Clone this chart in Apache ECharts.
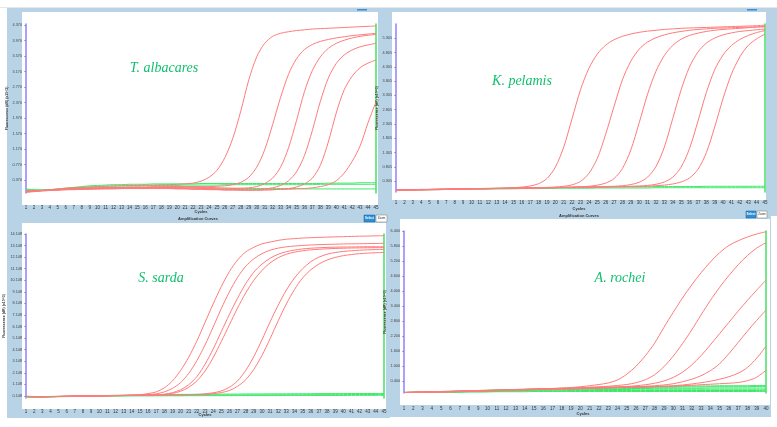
<!DOCTYPE html>
<html><head><meta charset="utf-8">
<script src="https://cdn.jsdelivr.net/npm/echarts@6.0.0/dist/echarts.min.js"></script>
<style>html,body{margin:0;padding:0;background:#fff}#c{width:777px;height:427px}</style>
</head><body><div id="c"></div>
<script>
const cycles45 = [1,2,3,4,5,6,7,8,9,10,11,12,13,14,15,16,17,18,19,20,21,22,23,24,25,26,27,28,29,30,31,32,33,34,35,36,37,38,39,40,41,42,43,44,45];
const cycles40 = [1,2,3,4,5,6,7,8,9,10,11,12,13,14,15,16,17,18,19,20,21,22,23,24,25,26,27,28,29,30,31,32,33,34,35,36,37,38,39,40];

const tlTicks = [0.370,0.770,1.170,1.570,1.970,2.370,2.770,3.170,3.570,3.970,4.370];
const trTicks = [0.305,0.805,1.305,1.805,2.305,2.805,3.305,3.805,4.305,4.805,5.305,5.805];
const blTicks = [0.148,1.148,2.148,3.148,4.148,5.148,6.148,7.148,8.148,9.148,10.148,11.148,12.148,13.148,14.148];
const brTicks = [0.400,1.000,1.600,2.200,2.800,3.400,4.000,4.600,5.200,5.800,6.400];

// T. albacares
const tlRed = [
 [0.07,0.08,0.10,0.12,0.14,0.16,0.17,0.18,0.19,0.20, 0.21,0.22,0.22,0.23,0.23,0.24,0.24,0.25,0.25,0.26, 0.27,0.29,0.34,0.44,0.62,0.95,1.45,2.15,2.95,3.55, 3.90,4.08,4.16,4.20,4.23,4.25,4.27,4.28,4.29,4.30, 4.31,4.32,4.33,4.34,4.35],
 [0.09,0.09,0.10,0.11,0.12,0.13,0.14,0.15,0.16,0.17, 0.17,0.18,0.18,0.19,0.19,0.19,0.20,0.20,0.20,0.20, 0.20,0.20,0.20,0.20,0.21,0.22,0.25,0.31,0.44,0.70, 1.15,1.80,2.50,3.10,3.50,3.74,3.87,3.95,4.00,4.04, 4.07,4.10,4.12,4.14,4.16],
 [0.08,0.09,0.10,0.11,0.12,0.13,0.14,0.14,0.15,0.15, 0.16,0.16,0.17,0.17,0.18,0.18,0.18,0.19,0.19,0.19, 0.19,0.19,0.18,0.18,0.17,0.16,0.16,0.16,0.17,0.20, 0.28,0.42,0.70,1.20,1.90,2.65,3.20,3.55,3.77,3.90, 3.98,4.04,4.08,4.11,4.13],
 [0.06,0.08,0.10,0.11,0.12,0.13,0.14,0.14,0.15,0.15, 0.16,0.16,0.16,0.17,0.17,0.17,0.17,0.17,0.17,0.17, 0.16,0.16,0.15,0.15,0.14,0.13,0.13,0.12,0.12,0.12, 0.14,0.17,0.23,0.35,0.58,1.00,1.65,2.40,3.00,3.38, 3.60,3.73,3.81,3.86,3.90],
 [0.08,0.08,0.09,0.10,0.11,0.12,0.13,0.13,0.14,0.14, 0.15,0.15,0.15,0.16,0.16,0.16,0.16,0.16,0.16,0.15, 0.15,0.14,0.14,0.13,0.13,0.12,0.12,0.11,0.11,0.11, 0.11,0.12,0.13,0.15,0.19,0.27,0.42,0.75,1.35,2.10, 2.70,3.05,3.27,3.39,3.47],
 [0.05,0.07,0.09,0.10,0.11,0.12,0.12,0.13,0.13,0.14, 0.14,0.14,0.15,0.15,0.15,0.15,0.15,0.15,0.15,0.14, 0.14,0.13,0.13,0.12,0.12,0.11,0.11,0.11,0.11,0.11, 0.12,0.12,0.13,0.13,0.14,0.15,0.17,0.20,0.25,0.35, 0.55,0.85,1.25,1.85,2.39]
];
const tlGreen = [
 [0.14,0.12,0.11,0.12,0.14,0.16,0.18,0.20,0.22,0.23, 0.24,0.25,0.25,0.26,0.26,0.26,0.27,0.27,0.27,0.27, 0.27,0.27,0.28,0.28,0.28,0.28,0.28,0.28,0.28,0.28, 0.28,0.28,0.28,0.28,0.28,0.28,0.28,0.28,0.29,0.29, 0.29,0.29,0.30,0.30,0.30],
 [0.10,0.10,0.11,0.12,0.13,0.14,0.15,0.16,0.17,0.17, 0.18,0.18,0.18,0.18,0.18,0.18,0.18,0.18,0.18,0.18, 0.17,0.17,0.17,0.16,0.16,0.16,0.15,0.15,0.15,0.15, 0.15,0.15,0.15,0.15,0.15,0.14,0.14,0.14,0.14,0.14, 0.14,0.14,0.14,0.14,0.14],
 [0.12,0.11,0.11,0.12,0.13,0.15,0.17,0.18,0.19,0.20, 0.21,0.21,0.22,0.22,0.22,0.23,0.23,0.23,0.23,0.23, 0.24,0.24,0.24,0.24,0.24,0.25,0.25,0.25,0.25,0.25, 0.25,0.25,0.25,0.25,0.25,0.25,0.25,0.26,0.26,0.26, 0.26,0.26,0.26,0.26,0.26]
];

// K. pelamis
const trRed = [
 [0.00,0.01,0.01,0.02,0.02,0.03,0.03,0.04,0.04,0.05, 0.05,0.06,0.06,0.07,0.08,0.10,0.14,0.22,0.40,0.80, 1.50,2.50,3.50,4.25,4.75,5.06,5.25,5.37,5.45,5.51, 5.55,5.58,5.61,5.63,5.65,5.66,5.67,5.68,5.69,5.70, 5.71,5.72,5.73,5.74,5.76],
 [0.00,0.01,0.01,0.02,0.02,0.03,0.03,0.04,0.04,0.05, 0.05,0.05,0.06,0.06,0.07,0.07,0.08,0.08,0.09,0.10, 0.13,0.18,0.30,0.58,1.10,1.95,2.92,3.85,4.50,4.92, 5.17,5.32,5.42,5.49,5.54,5.58,5.61,5.63,5.65,5.66, 5.67,5.68,5.69,5.70,5.72],
 [0.00,0.00,0.01,0.01,0.02,0.02,0.03,0.03,0.04,0.04, 0.05,0.05,0.05,0.06,0.06,0.07,0.07,0.08,0.08,0.09, 0.09,0.10,0.11,0.13,0.17,0.24,0.40,0.75,1.40,2.35, 3.35,4.15,4.70,5.05,5.27,5.40,5.48,5.54,5.58,5.61, 5.63,5.65,5.67,5.69,5.70],
 [-0.01,0.00,0.00,0.01,0.01,0.02,0.02,0.03,0.03,0.04, 0.04,0.05,0.05,0.06,0.06,0.07,0.07,0.08,0.08,0.09, 0.09,0.10,0.10,0.11,0.11,0.12,0.13,0.15,0.19,0.27, 0.45,0.82,1.50,2.50,3.50,4.30,4.82,5.13,5.31,5.42, 5.49,5.54,5.57,5.60,5.62],
 [-0.01,0.00,0.00,0.01,0.01,0.02,0.02,0.03,0.03,0.04, 0.04,0.05,0.05,0.05,0.06,0.06,0.07,0.07,0.08,0.08, 0.09,0.09,0.10,0.10,0.11,0.11,0.12,0.12,0.13,0.14, 0.16,0.20,0.28,0.45,0.80,1.45,2.40,3.40,4.20,4.72, 5.05,5.26,5.40,5.50,5.57],
 [-0.01,-0.01,0.00,0.00,0.01,0.01,0.02,0.02,0.03,0.03, 0.04,0.04,0.05,0.05,0.06,0.06,0.07,0.07,0.08,0.08, 0.09,0.09,0.10,0.10,0.10,0.11,0.11,0.11,0.12,0.12, 0.13,0.15,0.17,0.21,0.28,0.42,0.72,1.30,2.20,3.20, 4.05,4.65,5.05,5.28,5.45]
];
const trGreen = [
 [0.00,0.00,0.01,0.01,0.02,0.02,0.03,0.03,0.04,0.04, 0.05,0.05,0.06,0.06,0.07,0.07,0.08,0.08,0.08,0.09, 0.09,0.09,0.10,0.10,0.10,0.10,0.11,0.11,0.11,0.11, 0.11,0.12,0.12,0.12,0.12,0.12,0.12,0.13,0.13,0.13, 0.13,0.13,0.13,0.13,0.13],
 [-0.01,-0.01,0.00,0.00,0.01,0.01,0.02,0.02,0.02,0.03, 0.03,0.03,0.04,0.04,0.04,0.05,0.05,0.05,0.05,0.06, 0.06,0.06,0.06,0.06,0.07,0.07,0.07,0.07,0.07,0.07, 0.07,0.08,0.08,0.08,0.08,0.08,0.08,0.08,0.08,0.08, 0.08,0.08,0.08,0.08,0.08]
];

// S. sarda
const blRed = [
 [0.10,0.06,0.06,0.08,0.10,0.12,0.14,0.15,0.16,0.17, 0.18,0.19,0.20,0.22,0.25,0.35,0.50,0.85,1.45,2.35, 3.50,4.90,6.50,8.10,9.60,10.90,11.90,12.60,13.00,13.30, 13.45,13.60,13.70,13.75,13.80,13.83,13.86,13.88,13.90,13.92, 13.94,13.96,13.97,13.99,14.00],
 [0.12,0.10,0.09,0.10,0.11,0.12,0.13,0.14,0.15,0.16, 0.17,0.18,0.19,0.20,0.22,0.26,0.33,0.50,0.80,1.30, 2.10,3.20,4.55,6.10,7.70,9.15,10.40,11.35,12.00,12.45, 12.75,12.93,13.04,13.11,13.16,13.20,13.23,13.25,13.27,13.29, 13.30,13.31,13.32,13.33,13.34],
 [0.10,0.08,0.08,0.09,0.10,0.11,0.12,0.13,0.14,0.15, 0.16,0.17,0.18,0.19,0.20,0.21,0.24,0.30,0.43,0.68, 1.12,1.82,2.88,4.20,5.70,7.20,8.60,9.85,10.85,11.55, 12.05,12.40,12.62,12.76,12.86,12.92,12.96,12.99,13.01,13.02, 13.03,13.04,13.05,13.05,13.05],
 [0.10,0.09,0.08,0.09,0.10,0.11,0.12,0.13,0.14,0.15, 0.16,0.17,0.18,0.19,0.20,0.21,0.23,0.27,0.37,0.55, 0.90,1.45,2.30,3.45,4.85,6.30,7.75,9.05,10.15,11.00, 11.65,12.10,12.40,12.58,12.70,12.78,12.83,12.87,12.90,12.92, 12.94,12.95,12.96,12.97,12.97],
 [0.10,0.09,0.09,0.10,0.11,0.12,0.13,0.14,0.15,0.16, 0.17,0.18,0.19,0.20,0.21,0.22,0.23,0.24,0.25,0.26, 0.27,0.28,0.33,0.42,0.58,0.90,1.45,2.35,3.55,5.00, 6.55,8.00,9.30,10.35,11.15,11.75,12.15,12.40,12.55,12.64, 12.70,12.75,12.78,12.80,12.82],
 [0.11,0.10,0.09,0.10,0.11,0.12,0.13,0.14,0.15,0.16, 0.17,0.18,0.19,0.20,0.21,0.22,0.23,0.24,0.25,0.26, 0.27,0.27,0.28,0.34,0.44,0.62,0.98,1.55,2.45,3.65, 5.10,6.65,8.10,9.35,10.35,11.05,11.55,11.90,12.12,12.28, 12.38,12.45,12.50,12.53,12.56]
];
const blGreen = [
 [0.06,0.05,0.06,0.08,0.10,0.12,0.14,0.16,0.17,0.18, 0.19,0.20,0.21,0.22,0.23,0.24,0.25,0.26,0.27,0.28, 0.28,0.29,0.29,0.30,0.30,0.31,0.31,0.32,0.32,0.32, 0.33,0.33,0.33,0.34,0.34,0.34,0.35,0.35,0.35,0.35, 0.36,0.36,0.36,0.36,0.36],
 [0.08,0.06,0.06,0.07,0.09,0.10,0.12,0.13,0.14,0.15, 0.16,0.17,0.18,0.18,0.19,0.19,0.20,0.20,0.21,0.21, 0.21,0.22,0.22,0.22,0.23,0.23,0.23,0.24,0.24,0.24, 0.24,0.25,0.25,0.25,0.25,0.26,0.26,0.26,0.26,0.26, 0.27,0.27,0.27,0.27,0.27],
 [0.07,0.06,0.06,0.07,0.08,0.09,0.10,0.11,0.12,0.13, 0.13,0.14,0.14,0.15,0.15,0.15,0.16,0.16,0.16,0.16, 0.17,0.17,0.17,0.17,0.17,0.18,0.18,0.18,0.18,0.18, 0.18,0.18,0.19,0.19,0.19,0.19,0.19,0.19,0.19,0.19, 0.20,0.20,0.20,0.20,0.20]
];

// A. rochei
const brRed = [
 [-0.05,-0.04,-0.03,-0.02,-0.01,0.00,0.01,0.02,0.03,0.04, 0.05,0.06,0.07,0.08,0.09,0.10,0.11,0.13,0.15,0.18, 0.22,0.27,0.33,0.45,0.68,1.00,1.42,1.92,2.55,3.15, 3.72,4.25,4.73,5.16,5.53,5.82,6.01,6.16,6.28,6.37],
 [-0.05,-0.04,-0.03,-0.03,-0.02,-0.01,0.00,0.01,0.02,0.03, 0.04,0.05,0.06,0.07,0.08,0.09,0.10,0.11,0.12,0.14, 0.16,0.18,0.20,0.23,0.27,0.34,0.46,0.66,0.98,1.40, 1.90,2.45,3.05,3.62,4.15,4.62,5.05,5.42,5.72,5.93],
 [-0.05,-0.05,-0.04,-0.03,-0.02,-0.02,-0.01,0.00,0.01,0.02, 0.03,0.04,0.05,0.06,0.07,0.08,0.09,0.10,0.11,0.12, 0.14,0.15,0.16,0.17,0.19,0.22,0.26,0.32,0.41,0.55, 0.76,1.05,1.42,1.85,2.30,2.75,3.20,3.63,4.04,4.44],
 [-0.05,-0.04,-0.04,-0.03,-0.02,-0.01,0.00,0.01,0.02,0.03, 0.04,0.05,0.06,0.07,0.08,0.09,0.10,0.10,0.11,0.12, 0.13,0.14,0.15,0.16,0.17,0.18,0.20,0.22,0.25,0.30, 0.38,0.48,0.62,0.82,1.10,1.50,1.95,2.40,2.83,3.24],
 [-0.05,-0.05,-0.04,-0.03,-0.03,-0.02,-0.01,0.00,0.01,0.02, 0.03,0.04,0.05,0.06,0.07,0.08,0.09,0.10,0.10,0.11, 0.12,0.13,0.14,0.15,0.16,0.17,0.18,0.19,0.20,0.22, 0.25,0.29,0.34,0.40,0.48,0.58,0.72,0.95,1.32,1.80],
 [-0.05,-0.04,-0.04,-0.03,-0.02,-0.02,-0.01,0.00,0.01,0.01, 0.02,0.03,0.04,0.05,0.06,0.07,0.07,0.08,0.09,0.10, 0.11,0.12,0.13,0.14,0.15,0.16,0.17,0.18,0.19,0.20, 0.22,0.24,0.26,0.28,0.30,0.32,0.35,0.42,0.56,0.84]
];
const brGreen = [
 [-0.05,-0.04,-0.03,-0.02,-0.01,0.00,0.01,0.02,0.03,0.04, 0.05,0.06,0.07,0.08,0.09,0.10,0.11,0.12,0.13,0.14, 0.15,0.16,0.17,0.17,0.18,0.18,0.19,0.19,0.20,0.20, 0.20,0.21,0.21,0.21,0.22,0.22,0.22,0.22,0.23,0.23],
 [-0.05,-0.04,-0.03,-0.02,-0.02,-0.01,0.00,0.01,0.02,0.03, 0.04,0.05,0.06,0.07,0.08,0.08,0.09,0.10,0.11,0.12, 0.12,0.13,0.13,0.14,0.14,0.15,0.15,0.16,0.16,0.16, 0.17,0.17,0.17,0.18,0.18,0.18,0.18,0.18,0.19,0.19],
 [-0.05,-0.05,-0.04,-0.03,-0.02,-0.02,-0.01,0.00,0.01,0.02, 0.03,0.03,0.04,0.05,0.06,0.06,0.07,0.08,0.08,0.09, 0.09,0.10,0.10,0.10,0.11,0.11,0.11,0.12,0.12,0.12, 0.12,0.12,0.12,0.13,0.13,0.13,0.13,0.13,0.13,0.13],
 [-0.05,-0.05,-0.04,-0.04,-0.03,-0.02,-0.02,-0.01,0.00,0.01, 0.01,0.02,0.03,0.03,0.04,0.04,0.05,0.05,0.06,0.06, 0.06,0.07,0.07,0.07,0.07,0.08,0.08,0.08,0.08,0.08, 0.08,0.08,0.08,0.08,0.08,0.08,0.08,0.08,0.08,0.08],
 [-0.05,-0.05,-0.05,-0.04,-0.04,-0.03,-0.03,-0.02,-0.02,-0.01, -0.01,0.00,0.00,0.01,0.01,0.02,0.02,0.02,0.03,0.03, 0.03,0.03,0.03,0.03,0.03,0.03,0.03,0.03,0.03,0.03, 0.03,0.03,0.03,0.03,0.03,0.03,0.03,0.03,0.03,0.03],
 [-0.05,-0.05,-0.05,-0.05,-0.04,-0.04,-0.04,-0.03,-0.03,-0.03, -0.02,-0.02,-0.02,-0.02,-0.01,-0.01,-0.01,-0.01,-0.01,-0.01, -0.01,-0.01,-0.01,-0.01,-0.01,-0.01,-0.01,-0.01,-0.01,-0.01, -0.01,-0.01,-0.01,-0.01,-0.01,-0.01,-0.01,-0.01,-0.01,-0.01]
];

const panels = [
  {title:'T. albacares', cycles:cycles45, red:tlRed, green:tlGreen, ticks:tlTicks, min:0.035, max:4.40,
   grid:{left:26, top:24, width:350, height:169}, xMargin:12},
  {title:'K. pelamis', cycles:cycles45, red:trRed, green:trGreen, ticks:trTicks, min:-0.07, max:5.80,
   grid:{left:396, top:24, width:369, height:168}, xMargin:8},
  {title:'S. sarda', cycles:cycles45, red:blRed, green:blGreen, ticks:blTicks, min:-0.03, max:14.15,
   grid:{left:26, top:234, width:358, height:164}, xMargin:11},
  {title:'A. rochei', cycles:cycles40, red:brRed, green:brGreen, ticks:brTicks, min:-0.07, max:6.40,
   grid:{left:404, top:231, width:362, height:162}, xMargin:13}
];

const grids = [], xAxes = [], yAxes = [], series = [];
panels.forEach((p, i) => {
  grids.push(Object.assign({containLabel:false}, p.grid));
  xAxes.push({type:'value', gridIndex:i, min:1, max:p.cycles[p.cycles.length-1], interval:1,
    axisLine:{show:false}, axisTick:{show:false}, splitLine:{show:false},
    axisLabel:{fontSize:4.5, color:'#333', margin:p.xMargin, fontFamily:'Liberation Sans'}});
  yAxes.push({type:'value', gridIndex:i, min:p.min, max:p.max, position:'left',
    name:'Fluorescence (dR) (x10^3)', nameLocation:'middle', nameGap:14,
    nameTextStyle:{fontSize:3.5, color:'#333', fontWeight:'bold'},
    axisLine:{show:true, lineStyle:{color:'#8f80ff', width:1.5}},
    axisTick:{show:true, length:2, customValues:p.ticks, lineStyle:{color:'#666', width:0.5}},
    axisLabel:{fontSize:3.8, color:'#444', margin:4, customValues:p.ticks, formatter:v=>v.toFixed(3)},
    splitLine:{show:false}});
  yAxes.push({type:'value', gridIndex:i, min:p.min, max:p.max, position:'right',
    axisLine:{show:true, lineStyle:{color:'#44e060', width:1.5}},
    axisTick:{show:false}, axisLabel:{show:false}, splitLine:{show:false}});
  p.green.forEach(vals => series.push({type:'line', xAxisIndex:i, yAxisIndex:2*i, showSymbol:false, smooth:0.3,
    data:p.cycles.map((c,k)=>[c, vals[k]]), lineStyle:{color:'#3ee86a', width:1}, silent:true, z:2}));
  p.red.forEach(vals => series.push({type:'line', xAxisIndex:i, yAxisIndex:2*i, showSymbol:false, smooth:0.3,
    data:p.cycles.map((c,k)=>[c, vals[k]]), lineStyle:{color:'#ff7b7b', width:1}, silent:true, z:3}));
});

const BLUE = '#b9d3e6';
const rect = (x,y,w,h,fill,z,stroke) => ({type:'rect', shape:{x,y,width:w,height:h}, style:{fill, stroke:stroke||null, lineWidth:0.5}, z:z, silent:true});
const txt = (x,y,text,font,fill,align) => ({type:'text', x, y, z:100, silent:true,
  style:{text, font, fill, textAlign:align||'center', textVerticalAlign:'middle'}});
const titleFont = 'italic 14px "Liberation Serif"';
const TITLE = '#10bf6e';

const graphic = [
  rect(7,8,381,207,BLUE,-10),
  rect(383,8,394,208,BLUE,-10),
  rect(7,213,383,205,BLUE,-10),
  rect(390,213,381,204,BLUE,-10),
  rect(22,12,356,193,'#ffffff',-9),
  rect(392,12,374,188,'#ffffff',-9),
  rect(22,223,364,186,'#ffffff',-9),
  rect(400,219,370,186,'#ffffff',-9),
  rect(0,7,777,1,'#e6e6e6',-8),
  rect(357,9,10,1.5,'#3b8fd0',-8),
  rect(747,9,10,1.5,'#3b8fd0',-8),
  // buttons
  rect(364,215,11,7,'#2e8fd8',50,'#1b5e96'),
  rect(376,215,11,7,'#ffffff',50,'#777'),
  rect(746,211,10,7,'#2e8fd8',50,'#1b5e96'),
  rect(757,211,10,7,'#ffffff',50,'#777'),
  txt(369.5,218.5,'Select','bold 3px sans-serif','#fff'),
  txt(381.5,218.5,'Zoom','3px sans-serif','#333'),
  txt(751,214.5,'Select','bold 3px sans-serif','#fff'),
  txt(762,214.5,'Zoom','3px sans-serif','#333'),
  // axis captions
  txt(201,212,'Cycles','bold 4px "Liberation Sans"','#333'),
  txt(579,208.5,'Cycles','bold 4px "Liberation Sans"','#333'),
  txt(198,219,'Amplification Curves','bold 4px "Liberation Sans"','#333'),
  txt(205,415,'Cycles','bold 4px "Liberation Sans"','#333'),
  txt(579,216,'Amplification Curves','bold 4px "Liberation Sans"','#333'),
  txt(583,413.5,'Cycles','bold 4px "Liberation Sans"','#333'),
  // species titles
  txt(164,68,panels[0].title,titleFont,TITLE),
  txt(522,81,panels[1].title,titleFont,TITLE),
  txt(161,278,panels[2].title,titleFont,TITLE),
  txt(620,278,panels[3].title,titleFont,TITLE)
];

const chart = echarts.init(document.getElementById('c'), null, {renderer:'canvas'});
chart.setOption({
  backgroundColor:'#ffffff',
  animation:false,
  grid:grids, xAxis:xAxes, yAxis:yAxes, series:series, graphic:graphic
});
</script></body></html>
